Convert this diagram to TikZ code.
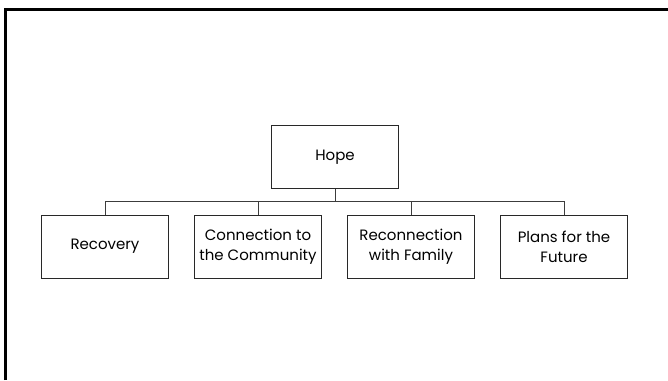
\documentclass[tikz,border=0pt]{standalone}
\usepackage{fontspec}
\setmainfont{Poppins}
\usepackage{tikz}
\usetikzlibrary{calc}

\tikzset{
  orgbox/.style={draw={rgb,255:red,40;green,40;blue,40}, line width=0.9pt, fill=white,
    minimum width=127pt, minimum height=63pt, inner sep=0.75pt, align=center,
    font=\fontsize{15}{20}\selectfont},
  orgline/.style={draw={rgb,255:red,60;green,60;blue,60}, line width=0.9pt}
}

\begin{document}
\begin{tikzpicture}[x=1pt,y=1pt,yscale=-1]
  \useasboundingbox (0,0) rectangle (668,380);

  %Shape: Frame
  \draw [line width=3pt] (5.5,380) -- (5.5,9.5) -- (668,9.5) ;

  % Top Node
  \node [orgbox] (hope) at (335,157) {Hope};
  % Child Nodes
  \node [orgbox] (recovery) at (105,246.5) {Recovery};
  \node [orgbox] (community) at (258,246.5) {Connection to\\the Community};
  \node [orgbox] (family) at (411,246.5) {Reconnection\\with Family};
  \node [orgbox] (future) at (564,246.5) {Plans for the\\Future};

  %Connectors
  \coordinate (bus) at (335,201.5);
  \draw [orgline] (hope.south) -- (bus);
  \draw [orgline] (bus) -| (recovery.north);
  \draw [orgline] (bus) -| (community.north);
  \draw [orgline] (bus) -| (family.north);
  \draw [orgline] (bus) -| (future.north);
\end{tikzpicture}
\end{document}
